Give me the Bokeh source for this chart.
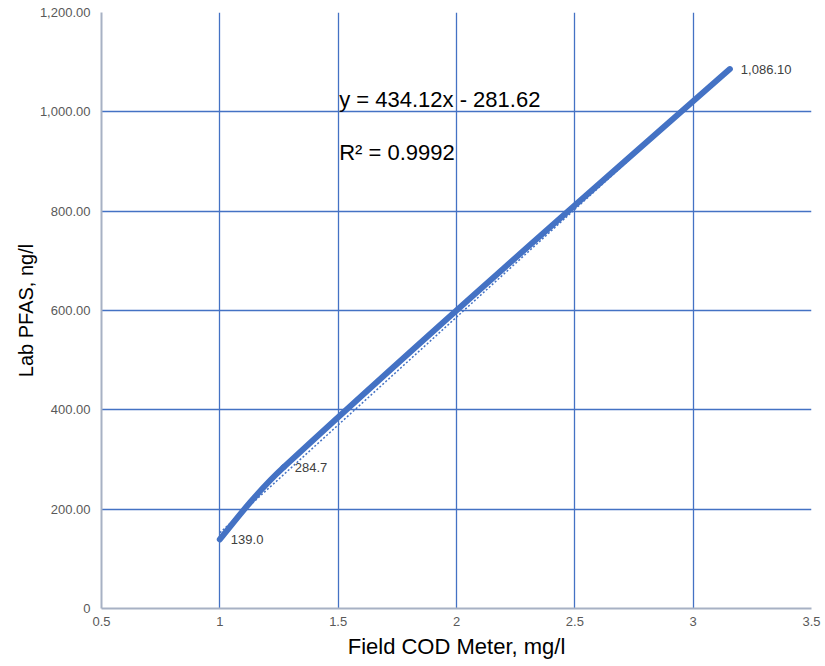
from bokeh.plotting import figure
from bokeh.models import Range1d, FixedTicker, Label, ColumnDataSource
from bokeh.embed import file_html
from bokeh.resources import INLINE
import numpy as np

# ---- data ----
cod = [1.0, 1.27, 3.155]          # Field COD Meter, mg/l
pfas = [139.0, 284.7, 1086.1]     # Lab PFAS, ng/l
point_labels = ["139.0", "284.7", "1,086.10"]
trend_slope = 434.12
trend_intercept = -281.62
eq_text = "y = 434.12x - 281.62"
r2_text = "R\u00b2 = 0.9992"
x_ticks = [0.5, 1, 1.5, 2, 2.5, 3, 3.5]
x_tick_labels = ["0.5", "1", "1.5", "2", "2.5", "3", "3.5"]
y_ticks = [0, 200, 400, 600, 800, 1000, 1200]
y_tick_labels = ["0", "200.00", "400.00", "600.00", "800.00", "1,000.00", "1,200.00"]

BLUE = "#4472C4"
FONT = "Liberation Sans"

W, H = 822, 661
BL, BT, BR, BB = 101, 12, 11, 53
XR = (0.5, 3.5)
YR = (0, 1200)

p = figure(width=W, height=H, output_backend="svg", toolbar_location=None,
           x_range=Range1d(*XR), y_range=Range1d(*YR),
           min_border_left=BL, min_border_top=BT, min_border_right=BR, min_border_bottom=BB)
p.outline_line_color = None
p.background_fill_color = "white"
p.border_fill_color = "white"

# grid
p.xgrid.ticker = FixedTicker(ticks=x_ticks)
p.ygrid.ticker = FixedTicker(ticks=y_ticks)
for g in (p.xgrid, p.ygrid):
    g.grid_line_color = BLUE
    g.grid_line_width = 1.3

# axes
p.xaxis.ticker = FixedTicker(ticks=x_ticks)
p.yaxis.ticker = FixedTicker(ticks=y_ticks)
p.xaxis.major_label_overrides = {t: s for t, s in zip(x_ticks, x_tick_labels)}
p.yaxis.major_label_overrides = {t: s for t, s in zip(y_ticks, y_tick_labels)}
for ax in (p.xaxis, p.yaxis):
    ax.axis_line_color = "#a7b1c4"
    ax.axis_line_width = 2
    ax.major_tick_line_color = None
    ax.minor_tick_line_color = None
    ax.major_tick_out = 0
    ax.major_tick_in = 0
    ax.major_label_text_font = FONT
    ax.major_label_text_font_size = "13px"
    ax.major_label_text_color = "#595959"
    ax.axis_label_text_font = FONT
    ax.axis_label_text_font_style = "normal"
    ax.axis_label_text_color = "black"
p.xaxis.axis_label = "Field COD Meter, mg/l"
p.yaxis.axis_label = "Lab PFAS, ng/l"
p.xaxis.axis_label_text_font_size = "22px"
p.yaxis.axis_label_text_font_size = "20px"
p.xaxis.major_label_standoff = 8
p.xaxis.axis_label_standoff = 5
p.yaxis.major_label_standoff = 11
p.yaxis.axis_label_standoff = 0

# trendline (dotted)
tx = np.array([cod[0], cod[-1]])
p.line(tx, trend_slope * tx + trend_intercept, line_color=BLUE, line_width=1.5,
       line_dash="2 2")

# smoothed series line: Bezier segments through the data points,
# tangents computed in screen space (scale derived from frame size and ranges)
fw = W - BL - BR
fh = H - BT - BB
sx = fw / (XR[1] - XR[0])
sy = fh / (YR[1] - YR[0])
P = np.column_stack([np.array(cod) * sx, np.array(pfas) * sy])
n = len(P)
tang = []
for i in range(n):
    if i == 0:
        d = P[1] - P[0]
    elif i == n - 1:
        d = P[-1] - P[-2]
    else:
        d = P[i + 1] - P[i - 1]
    tang.append(d / np.linalg.norm(d))
x0, y0, x1, y1, cx0, cy0, cx1, cy1 = [], [], [], [], [], [], [], []
for i in range(n - 1):
    L = np.linalg.norm(P[i + 1] - P[i]) / 3
    c1 = P[i + 1] - tang[i + 1] * L
    if i == 0:
        c0 = P[i] + (c1 - P[i]) / 2
    else:
        c0 = P[i] + tang[i] * L
    if i == n - 2 and i > 0:
        c1 = P[i + 1] - (P[i + 1] - c0) / 2
    x0.append(P[i][0] / sx); y0.append(P[i][1] / sy)
    x1.append(P[i + 1][0] / sx); y1.append(P[i + 1][1] / sy)
    cx0.append(c0[0] / sx); cy0.append(c0[1] / sy)
    cx1.append(c1[0] / sx); cy1.append(c1[1] / sy)
p.bezier(x0=x0, y0=y0, x1=x1, y1=y1, cx0=cx0, cy0=cy0, cx1=cx1, cy1=cy1,
         line_color=BLUE, line_width=6, line_cap="round")

# point labels
src = ColumnDataSource(dict(x=cod, y=pfas, t=point_labels))
p.text(x="x", y="y", text="t", source=src, x_offset=11, text_align="left",
       text_baseline="middle", text_font_size="13px", text_color="#404040",
       text_font={"value": FONT})

# equation
p.add_layout(Label(x=1.5, y=1024, x_offset=1, text=eq_text, text_align="left",
                   text_baseline="alphabetic", text_font=FONT, text_font_size="22px",
                   text_color="black"))
p.add_layout(Label(x=1.5, y=918, x_offset=1, text=r2_text, text_align="left",
                   text_baseline="alphabetic", text_font=FONT, text_font_size="22px",
                   text_color="black"))

open("out.html", "w").write(file_html(p, INLINE))
